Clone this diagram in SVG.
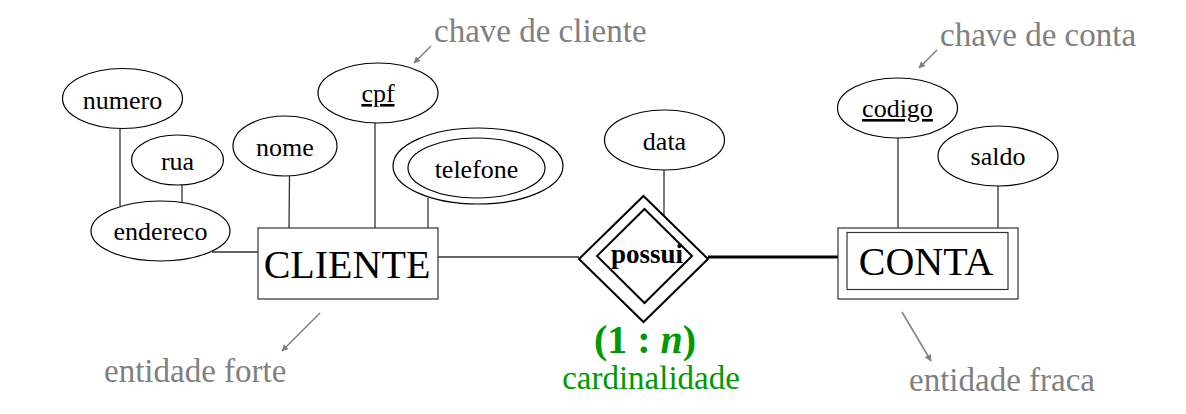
<svg xmlns="http://www.w3.org/2000/svg" width="1186" height="414" viewBox="0 0 1186 414">
<defs>
<marker id="ah" viewBox="0 0 10 10" refX="9" refY="5" markerWidth="7" markerHeight="7" markerUnits="userSpaceOnUse" orient="auto">
<path d="M0,0 L10,5 L0,10 Z" fill="#808080"/>
</marker>
<style>
.attr{fill:#fff;stroke:#000;stroke-width:1.2}
.ent{fill:#fff;stroke:#333;stroke-width:1.2}
.ln{stroke:#333;stroke-width:1.3;fill:none}
.t{font-family:"Liberation Serif","Times New Roman",serif;font-size:26px;fill:#000;text-anchor:middle}
.big{font-family:"Liberation Serif","Times New Roman",serif;font-size:40px;fill:#000;text-anchor:middle}
.note{font-family:"Liberation Serif","Times New Roman",serif;font-size:33px;fill:#808080}
.arr{stroke:#808080;stroke-width:1.5;fill:none;marker-end:url(#ah)}
</style>
</defs>
<rect width="1186" height="414" fill="#fff"/>
<g id="connectors">
<line class="ln" x1="120" y1="128" x2="120" y2="206"/>
<line class="ln" x1="182" y1="185" x2="182" y2="202"/>
<line class="ln" x1="212" y1="252" x2="258" y2="252"/>
<line class="ln" x1="289.5" y1="176" x2="289" y2="228"/>
<line class="ln" x1="375" y1="123" x2="375" y2="228"/>
<line class="ln" x1="428" y1="198" x2="428" y2="228"/>
<line class="ln" x1="438" y1="257" x2="579" y2="257"/>
<line class="ln" x1="664" y1="170" x2="664" y2="217"/>
<line x1="708" y1="257" x2="838" y2="257" stroke="#000" stroke-width="3"/>
<line class="ln" x1="898" y1="138" x2="898" y2="228"/>
<line class="ln" x1="998" y1="186" x2="998" y2="228"/>
</g>
<g id="numero"><ellipse class="attr" cx="122.5" cy="98.5" rx="60" ry="30"/><text class="t" x="122.5" y="109">numero</text></g>
<g id="rua"><ellipse class="attr" cx="177.5" cy="160" rx="46" ry="25"/><text class="t" x="177.5" y="170">rua</text></g>
<g id="endereco"><ellipse class="attr" cx="160.5" cy="231" rx="69.5" ry="30"/><text class="t" x="160.5" y="240">endereco</text></g>
<g id="nome"><ellipse class="attr" cx="285" cy="146" rx="52" ry="30"/><text class="t" x="285" y="156">nome</text></g>
<g id="cpf"><ellipse class="attr" cx="378" cy="93" rx="60" ry="30"/><text class="t" x="378" y="102" text-decoration="underline">cpf</text></g>
<g id="telefone"><ellipse class="attr" cx="478" cy="166" rx="85" ry="38"/><ellipse class="attr" cx="476.5" cy="168" rx="68.5" ry="30"/><text class="t" x="476.5" y="178">telefone</text></g>
<g id="cliente"><rect class="ent" x="258" y="228" width="180" height="71"/><text class="big" x="347" y="278">CLIENTE</text></g>
<g id="data"><ellipse class="attr" cx="664.5" cy="140" rx="60" ry="30"/><text class="t" x="664.5" y="150">data</text></g>
<g id="possui">
<polygon points="643.5,196 708,259 643.5,322 579,259" fill="#fff" stroke="#000" stroke-width="2"/>
<polygon points="644.5,209 692,256 644.5,303 597,256" fill="#fff" stroke="#000" stroke-width="2"/>
<text x="647" y="263" font-family="Liberation Serif,Times New Roman,serif" font-size="27" font-weight="bold" text-anchor="middle" fill="#000">possui</text>
</g>
<g id="conta"><rect class="ent" x="838" y="228" width="180" height="71"/><rect class="ent" x="847" y="232.5" width="161" height="57"/><text class="big" x="926" y="275">CONTA</text></g>
<g id="codigo"><ellipse class="attr" cx="897.5" cy="108" rx="60" ry="30"/><text class="t" x="897.5" y="117" text-decoration="underline">codigo</text></g>
<g id="saldo"><ellipse class="attr" cx="998" cy="156" rx="60" ry="30"/><text class="t" x="998" y="165">saldo</text></g>
<g id="annotations">
<text class="note" x="434" y="42">chave de cliente</text>
<line class="arr" x1="431" y1="46" x2="414" y2="63"/>
<text class="note" x="940" y="46">chave de conta</text>
<line class="arr" x1="937" y1="50" x2="919" y2="68"/>
<text class="note" x="104" y="382">entidade forte</text>
<line class="arr" x1="320" y1="313" x2="282" y2="351"/>
<text class="note" x="909" y="391">entidade fraca</text>
<line class="arr" x1="902" y1="312" x2="931" y2="361"/>
<text x="645" y="353" font-family="Liberation Serif,Times New Roman,serif" font-size="40" font-weight="bold" text-anchor="middle" fill="#009900">(1 : <tspan font-style="italic">n</tspan>)</text>
<text x="651" y="389" font-family="Liberation Serif,Times New Roman,serif" font-size="33" text-anchor="middle" fill="#009900">cardinalidade</text>
</g>
</svg>
